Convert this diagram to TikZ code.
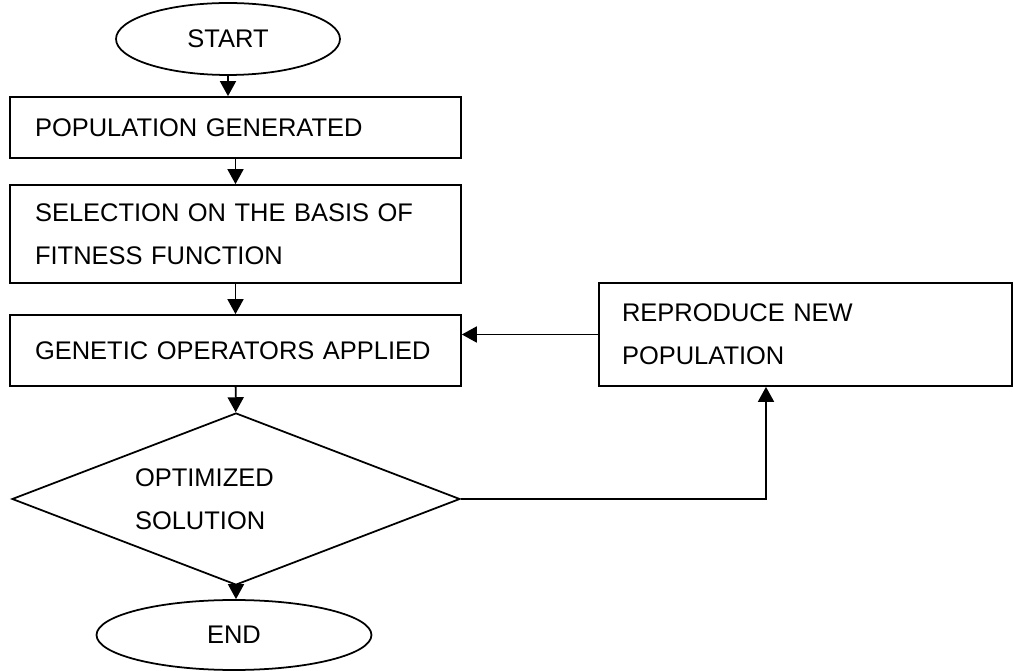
\documentclass[tikz,border=0pt]{standalone}
\usepackage{fontspec}
\setmainfont{Liberation Sans}
\usetikzlibrary{arrows.meta,shapes.geometric,positioning,calc}
\tikzstyle{term}=[ellipse, draw=black, line width=1pt, inner sep=0pt]
\tikzstyle{proc}=[rectangle, draw=black, line width=1pt, inner xsep=0.5cm, inner ysep=0pt, align=left, text width=8.02cm, minimum width=9.02cm]
\tikzstyle{test}=[diamond, draw=black, line width=1pt, inner sep=0pt, aspect=2.6, align=left, text width=4.04cm, minimum width=8.96cm, minimum height=3.44cm]
\tikzstyle{arr}=[line width=1pt, -{Triangle[length=0.3cm,width=0.32cm]}]

\begin{document}
\begin{tikzpicture}[x=0.02cm, y=-0.02cm, font=\fontsize{14.5pt}{24.5pt}\selectfont]
      \useasboundingbox (0,0) rectangle (1014,671);
      % main column
      \node at (228,39) [term, minimum width=4.48cm, minimum height=1.44cm] (start) {START};
      \node at (235.5,127.5) [proc, minimum height=1.22cm] (pop) {POPULATION GENERATED};
      \node at (235.5,234) [proc, minimum height=1.96cm] (sel) {SELECTION ON THE BASIS OF\\FITNESS FUNCTION};
      \node at (235.5,350.5) [proc, minimum height=1.42cm] (gen) {GENETIC~OPERATORS~APPLIED};
      \node at (236,499) [test] (dia) {OPTIMIZED\\SOLUTION};
      \node at (234,635) [term, minimum width=5.5cm, minimum height=1.4cm] (end) {END};
      % side box
      \node at (805.5,334.5) [proc, text width=7.34cm, inner xsep=0.46cm, minimum width=8.26cm, minimum height=2.06cm] (rep) {REPRODUCE NEW\\POPULATION};
      \coordinate (turn) at (766,499);
      %
      \draw[arr] (start) -- (start |- pop.north);
      \draw[arr] (pop) -- (sel);
      \draw[arr] (sel) -- (gen);
      \draw[arr] (gen) -- (dia);
      \draw[arr] (dia.south) -- (dia.south |- end.north);
      \draw[arr] (dia.east) -- (turn) -- (turn |- rep.south);
      \draw[arr] (rep.west) -- (rep.west -| gen.east);
\end{tikzpicture}
\end{document}
